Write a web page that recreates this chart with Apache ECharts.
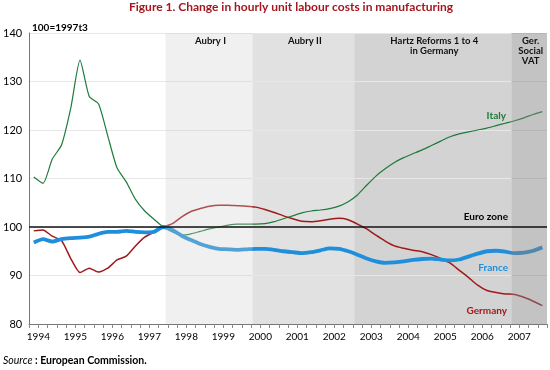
<!DOCTYPE html>
<html><head><meta charset="utf-8">
<script src="https://cdn.jsdelivr.net/npm/echarts@6.0.0/dist/echarts.min.js"></script>
<style>html,body{margin:0;padding:0;background:#fff}#c{width:550px;height:370px}</style>
</head><body><div id="c"></div>
<script>
// Quarterly data, 1994Q1 .. 2007Q4, index 100 = 1997Q3
const yearLabels = ['1994','1995','1996','1997','1998','1999','2000','2001','2002','2003','2004','2005','2006','2007'];
const yTicks = [80, 90, 100, 110, 120, 130, 140];
const italy = [110.3,109.0,114.0,116.9,124.5,134.4,126.9,125.4,118.8,112.2,109.3,105.7,103.3,101.6,
  100.0,99.0,98.3,98.6,99.1,99.6,100.0,100.4,100.6,100.6,100.6,100.7,101.1,101.7,102.3,102.9,103.3,103.5,103.8,104.3,105.2,
  106.6,108.6,110.5,112.0,113.3,114.3,115.1,115.9,116.8,117.7,118.6,119.2,119.6,120.0,120.4,120.9,121.4,121.9,122.5,123.2,123.8];
const germany = [99.2,99.4,98.1,97.2,93.5,90.6,91.5,90.7,91.5,93.2,94.0,96.1,97.9,99.0,
  100.0,100.7,102.1,103.2,103.8,104.3,104.5,104.5,104.4,104.3,104.1,103.6,103.0,102.3,101.7,101.2,101.1,101.3,101.6,101.8,101.5,
  100.6,99.6,98.3,97.1,96.1,95.6,95.2,94.9,94.3,93.5,92.6,91.1,89.6,88.0,86.9,86.5,86.2,86.1,85.5,84.7,83.8];
const france = [96.8,97.5,97.0,97.5,97.7,97.8,98.0,98.6,99.0,99.0,99.2,99.0,98.9,99.0,
  100.0,99.4,98.2,97.3,96.5,95.9,95.5,95.4,95.3,95.4,95.5,95.5,95.3,95.0,94.8,94.6,94.8,95.2,95.6,95.5,95.0,
  94.3,93.5,92.9,92.6,92.7,92.9,93.2,93.4,93.5,93.3,93.1,93.3,93.9,94.5,95.0,95.1,94.9,94.6,94.7,95.1,95.8];
const euroZone = 100;
// policy periods, in quarters since 1994Q1
const periodNames = ['Aubry I','Aubry II','Hartz Reforms 1 to 4\nin Germany','Ger.\nSocial\nVAT'];
const periodStart = [14.75, 24.15, 35.15, 52.15];
const periodEnd = [24.15, 35.15, 52.15, 56];

const yMin = yTicks[0], yMax = yTicks[yTicks.length-1];
const nQ = yearLabels.length * 4;
const toPts = arr => arr.map((v,i) => [i + 0.5, v]);

const bandStyle = [
  {fill:'rgba(205,205,205,0.3)', over:true},
  {fill:'#e1e1e1', over:false},
  {fill:'#d3d3d3', over:false},
  {fill:'rgba(130,130,130,0.48)', over:true}
];
function bandSeries(over, z) {
  const data = [];
  periodNames.forEach((n,k) => { if (bandStyle[k].over === over) data.push([periodStart[k], periodEnd[k], yMin, yMax, k]); });
  return {
    type:'custom', z:z, silent:true,
    encode:{x:[0,1], y:[2,3]},
    data:data,
    renderItem(params, api) {
      const k = api.value(4);
      const a = api.coord([api.value(0), yMax]);
      const b = api.coord([api.value(1), yMin]);
      return {type:'group', children:[
        {type:'rect', shape:{x:a[0], y:a[1], width:b[0]-a[0], height:b[1]-a[1]}, style:{fill:bandStyle[k].fill}},
        {type:'text', style:{text:periodNames[k], x:(a[0]+b[0])/2 + 1.5, y:a[1]+3, align:'center', verticalAlign:'top',
          font:'bold 9.5px Lato', fill:'#111', lineHeight:10}}
      ]};
    }
  };
}

const chart = echarts.init(document.getElementById('c'), null, {renderer:'canvas'});
chart.setOption({
  animation:false,
  grid:{left:29, right:2, top:33, bottom:46},
  xAxis:{type:'value', min:0, max:nQ, interval:1, z:1,
    axisLine:{show:true, lineStyle:{color:'#777', width:1}},
    axisTick:{show:true, length:4, lineStyle:{color:'#888'}},
    splitLine:{show:false},
    axisLabel:{color:'#000', fontSize:10, fontFamily:'Lato', margin:8,
      formatter: v => ((v-1)%4===0 && v < nQ) ? yearLabels[(v-1)/4] : ''}
  },
  yAxis:{type:'value', min:yMin, max:yMax, interval:10, z:1,
    axisLine:{show:true, lineStyle:{color:'#777', width:1}},
    axisTick:{show:false},
    splitLine:{show:true, lineStyle:{color:'#e7e7e7', width:1}},
    axisLabel:{color:'#000', fontSize:11, fontFamily:'Lato', margin:7}
  },
  series:[
    bandSeries(false, 0),
    {name:'Italy', type:'line', z:2, data:toPts(italy), showSymbol:false, smooth:0.2,
      lineStyle:{color:'#1e7b3b', width:1.2}},
    {name:'Germany', type:'line', z:2, data:toPts(germany), showSymbol:false, smooth:0.2,
      lineStyle:{color:'#a11a1a', width:1.5}},
    {name:'France', type:'line', z:2, data:toPts(france), showSymbol:false, smooth:0.2,
      lineStyle:{color:'#1f8fdc', width:3.8}},
    bandSeries(true, 3),
    {name:'Euro zone', type:'line', z:4, data:[], 
      markLine:{silent:true, symbol:['none','none'], label:{show:false},
        lineStyle:{color:'#111', width:1.5, type:'solid'}, data:[{yAxis:euroZone}]}}
  ],
  graphic:[
    {type:'text', z:10, style:{text:'Figure 1. Change in hourly unit labour costs in manufacturing', x:291, y:7,
      textAlign:'center', textVerticalAlign:'middle', font:'bold 12px Lato', fill:'#a3161e'}},
    {type:'text', z:10, style:{text:'100=1997t3', x:32, y:28, textAlign:'left', textVerticalAlign:'middle',
      font:'bold 10px Lato', fill:'#000'}},
    {type:'text', z:10, style:{text:'Italy', x:506, y:116, textAlign:'right', textVerticalAlign:'middle',
      font:'bold 10px Lato', fill:'#1e7b3b'}},
    {type:'text', z:10, style:{text:'Euro zone', x:508, y:217, textAlign:'right', textVerticalAlign:'middle',
      font:'bold 10px Lato', fill:'#000'}},
    {type:'text', z:10, style:{text:'France', x:508, y:268, textAlign:'right', textVerticalAlign:'middle',
      font:'bold 10px Lato', fill:'#1f8fdc'}},
    {type:'text', z:10, style:{text:'Germany', x:507, y:311, textAlign:'right', textVerticalAlign:'middle',
      font:'bold 10px Lato', fill:'#a11a1a'}},
    {type:'text', z:10, style:{text:'{i|Source} : European Commission.', x:3, y:361, textAlign:'left', textVerticalAlign:'middle',
      font:'bold 10.5px Lato', fill:'#000',
      rich:{i:{fontStyle:'italic', fontWeight:'normal', fontSize:10.5, fontFamily:'Lato', fill:'#000'}}}}
  ]
});
</script></body></html>
